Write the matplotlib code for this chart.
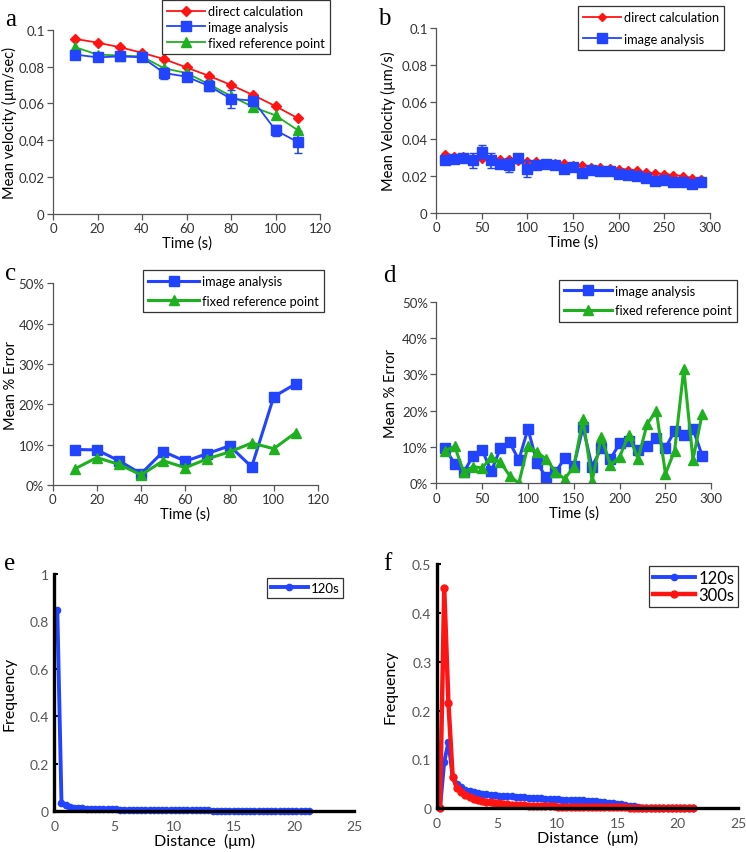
import numpy as np
import matplotlib
matplotlib.use('Agg')
import matplotlib.pyplot as plt

plt.rcParams['font.family'] = ['Lato', 'DejaVu Sans']

RED = '#ff1414'
BLUE = '#2243ff'
GREEN = '#1fb01f'
W, H = 746, 853

# panel a
t_a = [10, 20, 30, 40, 50, 60, 70, 80, 90, 100, 110]
a_direct = [0.095, 0.093, 0.0905, 0.0875, 0.084, 0.0795, 0.075, 0.070, 0.0645, 0.0585, 0.052]
a_image = [0.0865, 0.085, 0.0855, 0.085, 0.0765, 0.0745, 0.0695, 0.0625, 0.0615, 0.0455, 0.039]
a_image_err = [0.001, 0.001, 0.001, 0.001, 0.003, 0.0025, 0.003, 0.005, 0.002, 0.003, 0.006]
a_fixed = [0.0905, 0.0865, 0.086, 0.0855, 0.079, 0.0765, 0.0705, 0.064, 0.058, 0.0535, 0.0455]

# panel b
t_b = [10, 20, 30, 40, 50, 60, 70, 80, 90, 100, 110, 120, 130, 140, 150,
       160, 170, 180, 190, 200, 210, 220, 230, 240, 250, 260, 270, 280, 290]
b_direct = [0.032, 0.031, 0.031, 0.030, 0.029, 0.030, 0.029, 0.029, 0.028, 0.028,
            0.028, 0.027, 0.027, 0.027, 0.026, 0.026, 0.025, 0.025, 0.0245, 0.024,
            0.0235, 0.023, 0.022, 0.0215, 0.021, 0.0205, 0.020, 0.019, 0.0185]
b_image = [0.0285, 0.029, 0.030, 0.0285, 0.033, 0.0285, 0.0265, 0.026, 0.030, 0.024,
           0.026, 0.0265, 0.026, 0.024, 0.025, 0.0215, 0.0235, 0.0225, 0.0225, 0.021,
           0.0205, 0.020, 0.019, 0.0175, 0.018, 0.017, 0.0165, 0.0155, 0.017]
b_image_err = [0.001, 0.001, 0.001, 0.004, 0.004, 0.004, 0.001, 0.004, 0.001, 0.0045,
               0.001, 0.001, 0.001, 0.001, 0.001, 0.001, 0.001, 0.001, 0.001, 0.001,
               0.001, 0.001, 0.001, 0.001, 0.001, 0.001, 0.001, 0.001, 0.001]

# panel c (percent)
c_image = [8.8, 8.7, 6.0, 2.8, 8.3, 5.9, 7.8, 9.7, 4.5, 21.9, 25.1]
c_fixed = [4.0, 6.8, 5.1, 2.5, 6.0, 4.3, 6.5, 8.2, 10.4, 9.0, 13.0]

# panel d (percent)
d_image = [9.6, 5.3, 3.0, 7.6, 9.2, 3.3, 9.7, 11.3, 6.4, 15.0, 5.5, 1.7, 3.0, 6.9, 4.7,
           15.4, 4.6, 9.7, 6.7, 11.0, 11.6, 9.2, 10.2, 12.5, 9.7, 14.5, 13.4, 15.0, 7.6]
d_fixed = [9.0, 10.2, 3.0, 4.6, 4.2, 7.2, 5.8, 2.1, 0.0, 10.4, 8.5, 6.7, 3.2, 1.2, 4.6,
           17.7, 0.7, 12.7, 5.0, 7.3, 13.4, 6.7, 16.3, 20.0, 2.6, 9.0, 31.5, 6.5, 19.1]

# panels e, f: distance bins (um)
dist = np.arange(0.25, 21.5, 0.35)
e_120 = [0.85, 0.035, 0.026, 0.020, 0.016, 0.013, 0.012, 0.011, 0.010, 0.010,
         0.009, 0.009, 0.008, 0.008, 0.008, 0.007, 0.007, 0.007, 0.007, 0.006,
         0.006, 0.006, 0.006, 0.006, 0.005, 0.005, 0.005, 0.005, 0.005, 0.005,
         0.004, 0.004, 0.004, 0.004, 0.004, 0.004, 0.004, 0.003, 0.003, 0.003,
         0.003, 0.003, 0.003, 0.003, 0.002, 0.002, 0.002, 0.002, 0.002, 0.002,
         0.002, 0.001, 0.001, 0.001, 0.001, 0.001, 0.001, 0.001, 0.001, 0.001, 0.001]
f_120 = [0.0, 0.095, 0.135, 0.065, 0.050, 0.043, 0.038, 0.035, 0.033, 0.031,
         0.030, 0.029, 0.028, 0.027, 0.026, 0.026, 0.025, 0.025, 0.024, 0.023,
         0.023, 0.022, 0.022, 0.021, 0.021, 0.020, 0.020, 0.019, 0.019, 0.018,
         0.018, 0.017, 0.017, 0.016, 0.016, 0.015, 0.015, 0.014, 0.013, 0.012,
         0.011, 0.010, 0.009, 0.008, 0.007, 0.005, 0.004, 0.002, 0.001, 0.0,
         0.0, 0.0, 0.0, 0.0, 0.0, 0.0, 0.0, 0.0, 0.0, 0.0, 0.0]
f_300 = [0.0, 0.45, 0.215, 0.065, 0.042, 0.033, 0.027, 0.023, 0.020, 0.017,
         0.015, 0.013, 0.012, 0.011, 0.010, 0.009, 0.008, 0.007, 0.007, 0.006,
         0.006, 0.005, 0.005, 0.005, 0.004, 0.004, 0.004, 0.004, 0.003, 0.003,
         0.003, 0.003, 0.003, 0.003, 0.003, 0.002, 0.002, 0.002, 0.002, 0.002,
         0.002, 0.002, 0.002, 0.002, 0.002, 0.001, 0.001, 0.001, 0.001, 0.001,
         0.001, 0.001, 0.001, 0.001, 0.001, 0.0, 0.0, 0.0, 0.0, 0.0, 0.0]


def px_axes(fig, left, right, top, bottom):
    return fig.add_axes([left / W, 1 - bottom / H, (right - left) / W, (bottom - top) / H])


def style_top(ax):
    for s in ['top', 'right']:
        ax.spines[s].set_visible(False)
    for s in ['left', 'bottom']:
        ax.spines[s].set_color('#555555')
        ax.spines[s].set_linewidth(0.9)
    ax.tick_params(direction='out', length=4, width=0.9, color='#555555',
                   labelsize=9.5, labelcolor='#333333', pad=2)


def style_bottom(ax):
    for s in ['top', 'right']:
        ax.spines[s].set_visible(False)
    for s in ['left', 'bottom']:
        ax.spines[s].set_color('black')
        ax.spines[s].set_linewidth(2.4)
    ax.tick_params(axis='y', direction='in', length=3, width=1.5, color='black',
                   labelsize=10, labelcolor='#555555', pad=4)
    ax.tick_params(axis='x', length=0, labelsize=10, labelcolor='#555555', pad=6)


def put_legend(ax, x, y, handles, labels, **kw):
    leg = ax.legend(handles, labels, loc='upper left', bbox_to_anchor=(x / W, 1 - y / H),
                    bbox_transform=ax.figure.transFigure, borderaxespad=0,
                    fancybox=False, framealpha=1, edgecolor='#333333',
                    handletextpad=0.2, **kw)
    leg.get_frame().set_linewidth(0.9)
    return leg


def set_labels(ax, xlabel, ylabel, ylab_x, size=10.5):
    ax.set_xlabel(xlabel, fontsize=size, labelpad=1)
    ax.set_ylabel(ylabel, fontsize=size, va='center')
    ax.yaxis.set_label_coords(ylab_x, 0.5)


fig = plt.figure(figsize=(7.46, 8.53), dpi=100)

# ---- a ----
ax = px_axes(fig, 53, 320, 30.7, 215)
h1, = ax.plot(t_a, a_direct, '-D', color=RED, ms=5.5, lw=1.3)
h2 = ax.errorbar(t_a, a_image, yerr=a_image_err, fmt='-s', color=BLUE, ms=6.5, lw=1.3,
                 capsize=3, elinewidth=1.2)
h3, = ax.plot(t_a, a_fixed, '-^', color=GREEN, ms=7, lw=1.3)
ax.set_xlim(0, 120)
ax.set_ylim(0, 0.1)
ax.set_xticks(range(0, 121, 20))
ax.set_yticks([0, 0.02, 0.04, 0.06, 0.08, 0.1])
ax.set_yticklabels(['0', '0.02', '0.04', '0.06', '0.08', '0.1'])
style_top(ax)
set_labels(ax, 'Time (s)', 'Mean velocity (\u00b5m/sec)', -0.162)
put_legend(ax, 162, 1, [h1, h2[0], h3],
           ['direct calculation', 'image analysis', 'fixed reference point'],
           fontsize=9.2, handlelength=3.0, labelspacing=0.3)

# ---- b ----
ax = px_axes(fig, 436, 710, 29, 214)
hb1, = ax.plot(t_b, b_direct, '-D', color=RED, ms=4.5, lw=1.3)
hb2 = ax.errorbar(t_b, b_image, yerr=b_image_err, fmt='-s', color=BLUE, ms=7.5, lw=1.3,
                  capsize=3, elinewidth=1.2)
ax.set_xlim(0, 300)
ax.set_ylim(0, 0.1)
ax.set_xticks(range(0, 301, 50))
ax.set_yticks([0, 0.02, 0.04, 0.06, 0.08, 0.1])
ax.set_yticklabels(['0', '0.02', '0.04', '0.06', '0.08', '0.1'])
style_top(ax)
set_labels(ax, 'Time (s)', 'Mean Velocity (\u00b5m/s)', -0.175)
put_legend(ax, 578, 7, [hb1, hb2[0]], ['direct calculation', 'image analysis'],
           fontsize=9.2, handlelength=3.0, labelspacing=0.75)

# ---- c ----
ax = px_axes(fig, 52.7, 318, 284.3, 486)
hc1, = ax.plot(t_a, c_image, '-s', color=BLUE, ms=7, lw=2.2)
hc2, = ax.plot(t_a, c_fixed, '-^', color=GREEN, ms=7.5, lw=2.2)
ax.set_xlim(0, 120)
ax.set_ylim(0, 50)
ax.set_xticks(range(0, 121, 20))
ax.set_yticks(range(0, 51, 10))
ax.set_yticklabels(['%d%%' % v for v in range(0, 51, 10)])
style_top(ax)
set_labels(ax, 'Time (s)', 'Mean % Error', -0.157)
put_legend(ax, 143, 271, [hc1, hc2], ['image analysis', 'fixed reference point'],
           fontsize=9.2, handlelength=4.0, labelspacing=0.6)

# ---- d ----
ax = px_axes(fig, 436.3, 711.3, 302.7, 484.3)
hd1, = ax.plot(t_b, d_image, '-s', color=BLUE, ms=7, lw=2.2)
hd2, = ax.plot(t_b, d_fixed, '-^', color=GREEN, ms=7, lw=2.2)
ax.set_xlim(0, 300)
ax.set_ylim(0, 50)
ax.set_xticks(range(0, 301, 50))
ax.set_yticks(range(0, 51, 10))
ax.set_yticklabels(['%d%%' % v for v in range(0, 51, 10)])
style_top(ax)
set_labels(ax, 'Time (s)', 'Mean % Error', -0.165)
put_legend(ax, 558.7, 280.7, [hd1, hd2], ['image analysis', 'fixed reference point'],
           fontsize=9.2, handlelength=3.8, labelspacing=0.6)

# ---- e ----
ax = px_axes(fig, 54.3, 354, 575, 812.3)
he, = ax.plot(dist, e_120, '-o', color=BLUE, ms=4.5, lw=2.8, clip_on=False)
ax.set_xlim(0, 25)
ax.set_ylim(0, 1)
ax.set_xticks(range(0, 26, 5))
ax.set_yticks([0, 0.2, 0.4, 0.6, 0.8, 1])
ax.set_yticklabels(['0', '0.2', '0.4', '0.6', '0.8', '1'])
style_bottom(ax)
set_labels(ax, 'Distance  (\u03bcm)', 'Frequency', -0.15, size=11.5)
put_legend(ax, 267, 579, [he], ['120s'], fontsize=9.5, handlelength=2.8, borderpad=0.3)

# ---- f ----
ax = px_axes(fig, 437, 738, 565, 809.3)
hf1, = ax.plot(dist, f_120, '-o', color=BLUE, ms=4.5, lw=2.8, clip_on=False)
hf2, = ax.plot(dist, f_300, '-o', color=RED, ms=5, lw=3.2, clip_on=False)
ax.set_xlim(0, 25)
ax.set_ylim(0, 0.5)
ax.set_xticks(range(0, 26, 5))
ax.set_yticks([0, 0.1, 0.2, 0.3, 0.4, 0.5])
ax.set_yticklabels(['0', '0.1', '0.2', '0.3', '0.4', '0.5'])
style_bottom(ax)
set_labels(ax, 'Distance  (\u03bcm)', 'Frequency', -0.153, size=11.5)
put_legend(ax, 649, 566.7, [hf1, hf2], ['120s', '300s'], fontsize=12,
           handlelength=2.5, borderpad=0.25, labelspacing=0.05)

# panel letters
for letter, x, y in [('a', 5, 26), ('b', 378, 25), ('c', 5, 280), ('d', 383, 282),
                     ('e', 4, 570), ('f', 383, 570)]:
    fig.text(x / W, 1 - y / H, letter, family='Liberation Serif', fontsize=18,
             ha='left', va='baseline')

fig.savefig('out.png', dpi=100)
